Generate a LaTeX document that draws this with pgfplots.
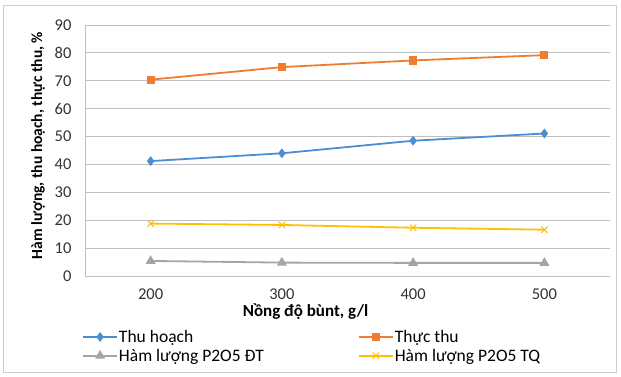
\documentclass[border=0pt]{standalone}
\usepackage{pgfplots}
\pgfplotsset{compat=1.18}
\usepackage{fontspec}
\setmainfont{Carlito}
\definecolor{cblue}{HTML}{4A8FD6}
\definecolor{corange}{HTML}{ED7D31}
\definecolor{cgray}{HTML}{A5A5A5}
\definecolor{cyellow}{HTML}{FFC000}
\definecolor{cgrid}{HTML}{BFBFBF}
\begin{document}
\begin{tikzpicture}[x=1pt,y=1pt]
\path (-85,-101) rectangle (536,276);
\draw[cgrid!80] (-82,-96) rectangle (531,271);
\begin{axis}[
  at={(0,0)}, anchor=south west,
  scale only axis, width=525pt, height=251pt,
  xmin=-0.5, xmax=3.5, ymin=0, ymax=90,
  xtick={0,1,2,3}, xticklabels={200,300,400,500},
  ytick={0,10,...,90},
  ymajorgrids, grid style={cgrid, line width=0.8pt},
  axis x line*=bottom, axis y line*=left,
  x axis line style={draw=none},
  y axis line style={cgrid, line width=0.8pt},
  major tick length=0pt,
  /pgf/number format/assume math mode=true,
  tick label style={font=\fontsize{16.5}{18}\selectfont, text=black!80},
  xticklabel style={yshift=-9pt},
  yticklabel style={xshift=-10pt},
  xlabel={\textbf{Nồng độ bùnt, g/l}},
  xlabel style={font=\fontsize{17}{19}\selectfont, at={(axis description cs:0.42,0)}, anchor=center, yshift=-36pt},
  ylabel={\textbf{Hàm lượng, thu hoạch, thực thu, \%}},
  ylabel style={font=\fontsize{15.5}{17}\selectfont, at={(axis description cs:0,0.52)}, anchor=center, yshift=47pt},
  legend columns=2,
  legend cell align=left,
  legend style={at={(-3pt,-53pt)}, anchor=north west, draw=none, fill=none,
    font=\fontsize{17.5}{19}\selectfont, row sep=3pt, inner sep=0pt,
    nodes={inner sep=1pt}},
  legend image code/.code={\draw[mark repeat=2,mark phase=2] plot coordinates {(0pt,0pt)(17pt,0pt)(34pt,0pt)};},
  every axis plot/.append style={line width=1.8pt},
]
\addplot[cblue, mark=diamond*, mark size=3.5pt, mark options={solid}] coordinates {(0,41.2)(1,44.0)(2,48.5)(3,51.1)};
\addlegendentry{\makebox[238pt][l]{Thu hoạch}}
\addplot[corange, mark=square*, mark size=3.2pt] coordinates {(0,70.4)(1,74.9)(2,77.3)(3,79.2)};
\addlegendentry{Thực thu}
\addplot[cgray, mark=triangle*, mark size=4pt] coordinates {(0,5.4)(1,4.8)(2,4.7)(3,4.7)};
\addlegendentry{\makebox[238pt][l]{Hàm lượng P2O5 ĐT}}
\addplot[cyellow, mark=x, mark size=4.5pt, mark options={line width=1pt}] coordinates {(0,18.8)(1,18.3)(2,17.3)(3,16.6)};
\addlegendentry{Hàm lượng P2O5 TQ}
\end{axis}
\end{tikzpicture}
\end{document}
